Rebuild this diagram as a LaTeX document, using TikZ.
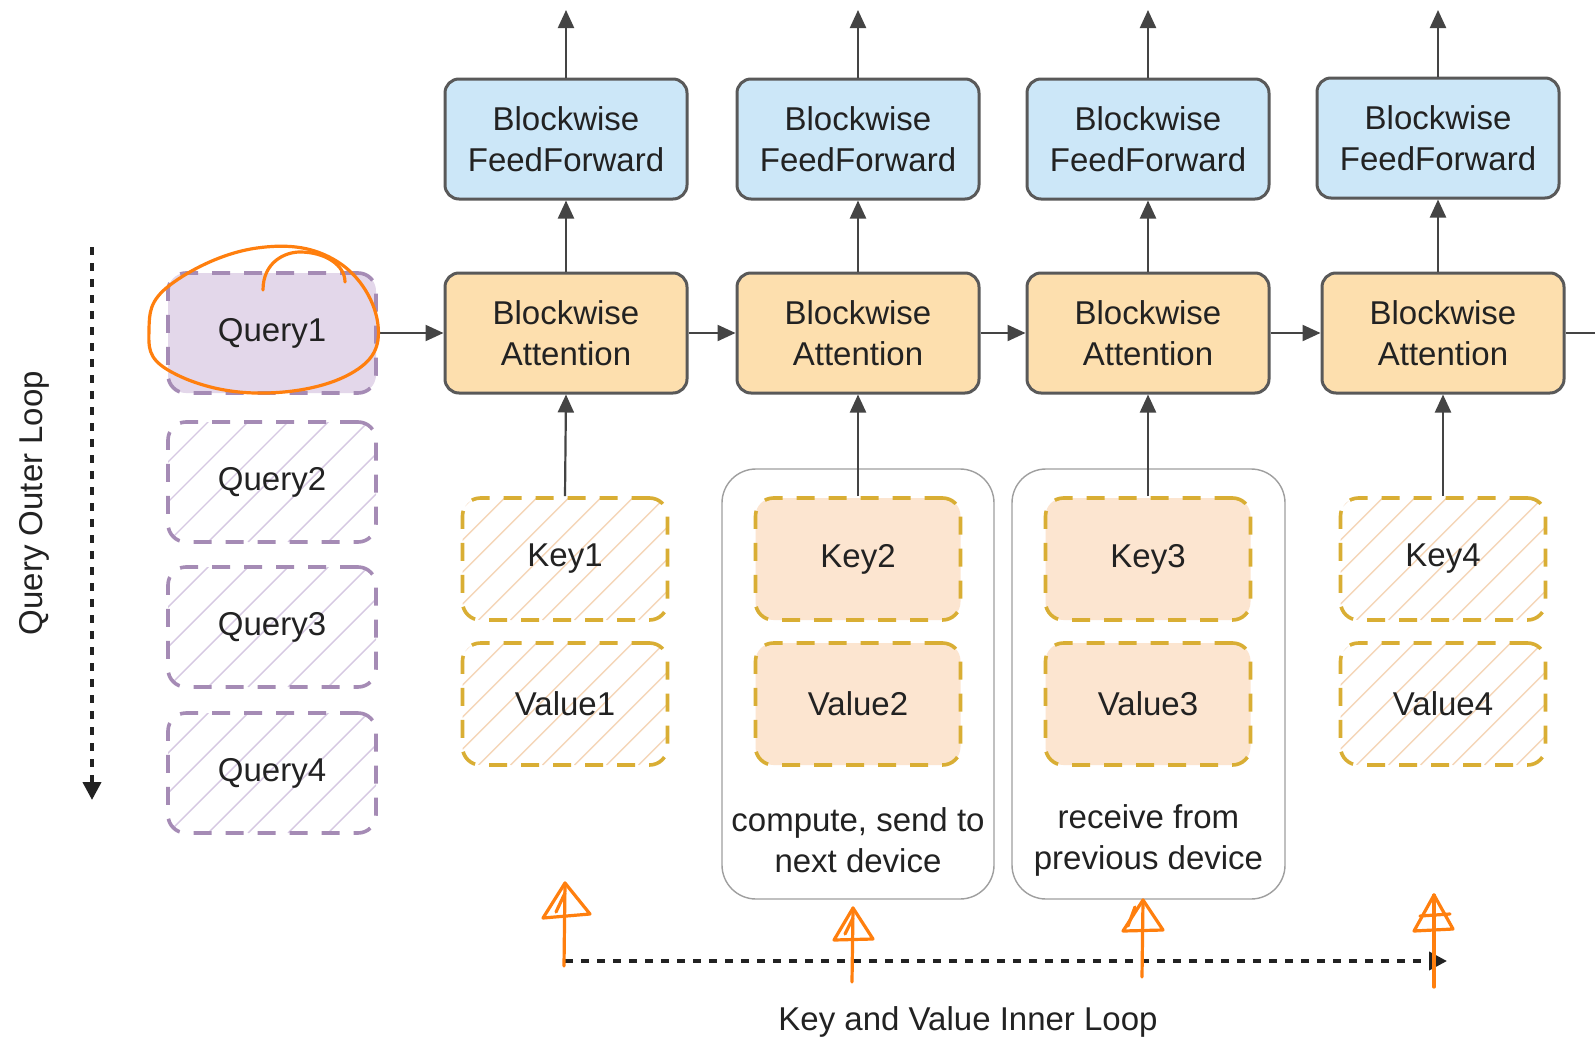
\documentclass[tikz,border=0pt]{standalone}
\usepackage{fontspec}
\setmainfont{Liberation Sans}
\usetikzlibrary{arrows.meta}
\definecolor{ffblue}{HTML}{CCE7F8}
\definecolor{attorange}{HTML}{FDDFAE}
\definecolor{boxline}{HTML}{595959}
\definecolor{qpurple}{HTML}{E3D7EA}
\definecolor{qline}{HTML}{A58BB5}
\definecolor{kyellow}{HTML}{D9AE34}
\definecolor{kfill}{HTML}{FCE5D0}
\definecolor{hatchq}{HTML}{D6C8E2}
\definecolor{hatchk}{HTML}{F5D6B8}
\definecolor{annot}{HTML}{FF7F0E}
\definecolor{txt}{HTML}{222222}
\definecolor{arr}{HTML}{444444}
\newcommand{\mainfs}{\fontsize{16.5pt}{20.5pt}\selectfont}
\tikzset{
  block/.style={draw=boxline, line width=1.5pt, rounded corners=7pt, minimum width=121pt, minimum height=60pt, align=center, font=\mainfs, text=txt, inner sep=0pt},
  ffbox/.style={block, fill=ffblue},
  attbox/.style={block, fill=attorange},
  hatching/.style 2 args={path picture={
      \foreach \i in {-120,-100,...,140}
        \draw[#1, line width=0.7pt, solid]
          ([xshift=\i pt]path picture bounding box.south west) -- ++(160pt,160pt);}},
  hatchingk/.style={path picture={
      \foreach \i in {-120,-104,...,140}
        \draw[hatchk, line width=0.7pt, solid]
          ([xshift=\i pt]path picture bounding box.south west) -- ++(160pt,160pt);}},
  qbox/.style={draw=qline, line width=1.8pt, dash pattern=on 9pt off 7pt, rounded corners=9pt, minimum width=104pt, minimum height=60pt, font=\mainfs, text=txt, inner sep=0pt},
  qhatch/.style={qbox, hatching={hatchq}{}},
  kbox/.style={draw=kyellow, line width=1.8pt, dash pattern=on 9pt off 7pt, rounded corners=9pt, minimum width=102.5pt, minimum height=61pt, font=\mainfs, text=txt, inner sep=0pt},
  khatch/.style={kbox, hatchingk},
  kfilled/.style={kbox, fill=kfill},
  container/.style={draw=gray!75, line width=0.7pt, rounded corners=17pt, minimum height=215pt, inner sep=0pt},
  plain/.style={font=\mainfs, text=txt, align=center, inner sep=0pt},
  link/.style={draw=arr, line width=1.1pt, -{Triangle[length=9pt,width=8pt]}},
  looparrow/.style={draw=txt, line width=2pt, dash pattern=on 4pt off 4pt, -{Triangle[length=9pt,width=9pt]}},
  note/.style={draw=annot, line width=1.6pt, line cap=round, line join=round}
}
\begin{document}
\begin{tikzpicture}[x=0.5pt,y=-0.5pt]
\clip (0,0) rectangle (1595,1044);
\fill[white] (0,0) rectangle (1595,1044);

% containers
\node[container, minimum width=136pt] (c2) at (858,684) {};
\node[container, minimum width=136.5pt] (c3) at (1148.5,684) {};
\node[plain] (t2) at (858,840) {compute, send to\\next device};
\node[plain] (t3) at (1148.5,840) {receive from\\previous device};

% feedforward
\node[ffbox] (f1) at (566,139) {Blockwise\\FeedForward};
\node[ffbox] (f2) at (858,139) {Blockwise\\FeedForward};
\node[ffbox] (f3) at (1148,139) {Blockwise\\FeedForward};
\node[ffbox] (f4) at (1438,138) {Blockwise\\FeedForward};

% attention
\node[attbox] (a1) at (566,333) {Blockwise\\Attention};
\node[attbox] (a2) at (858,333) {Blockwise\\Attention};
\node[attbox] (a3) at (1148,333) {Blockwise\\Attention};
\node[attbox] (a4) at (1443,333) {Blockwise\\Attention};

% queries
\node[qbox, fill=qpurple] (q1) at (272,333) {Query1};
\node[qhatch] (q2) at (272,482) {Query2};
\node[qhatch] (q3) at (272,627) {Query3};
\node[qhatch] (q4) at (272,773) {Query4};

% keys and values
\node[khatch] (k1) at (565,559) {Key1};
\node[khatch] (v1) at (565,704) {Value1};
\node[kfilled] (k2) at (858,559) {Key2};
\node[kfilled] (v2) at (858,704) {Value2};
\node[kfilled] (k3) at (1148,559) {Key3};
\node[kfilled] (v3) at (1148,704) {Value3};
\node[khatch] (k4) at (1443,559) {Key4};
\node[khatch] (v4) at (1443,704) {Value4};

% free ends
\coordinate (o1) at (566,10);
\coordinate (o2) at (858,10);
\coordinate (o3) at (1148,10);
\coordinate (o4) at (1438,10);
\coordinate (o5) at (1625,333);

% connectors
\draw[link] (f1.north) -- (o1);
\draw[link] (f2.north) -- (o2);
\draw[link] (f3.north) -- (o3);
\draw[link] (f4.north) -- (o4);
\draw[link] (a1.north) -- (f1.south);
\draw[link] (a2.north) -- (f2.south);
\draw[link] (a3.north) -- (f3.south);
\draw[link] (a4.north -| f4.south) -- (f4.south);
\draw[link] (k1.north) -- (a1.south);
\draw[link] (k2.north) -- (a2.south);
\draw[link] (k3.north) -- (a3.south);
\draw[link] (k4.north) -- (a4.south);
\draw[link] (q1.east) -- (a1.west);
\draw[link] (a1.east) -- (a2.west);
\draw[link] (a2.east) -- (a3.west);
\draw[link] (a3.east) -- (a4.west);
\draw[link] (a4.east) -- (o5);

% loops
\coordinate (qs) at (92,247);
\coordinate (qe) at (92,800);
\draw[looparrow] (qs) -- (qe);
\node[plain, rotate=90] (ql) at (34,503) {Query Outer Loop};
\coordinate (ks) at (565,961);
\coordinate (ke) at (1447,961);
\draw[looparrow] (ks) -- (ke);
\node[plain] (kl) at (968,1022) {Key and Value Inner Loop};

% orange annotations
\draw[note] plot[smooth cycle, tension=0.7] coordinates {(149,330) (170,285) (257,248) (338,262) (378,325) (350,374) (255,393) (168,370)};
\draw[note] (263,290) .. controls (263,262) and (285,252) .. (300,252) .. controls (325,252) and (345,265) .. (345,282);

\draw[note] (564,966) -- (565,883);
\draw[note] (565,883) -- (543,918) -- (590,914) -- cycle;
\draw[note] (565,893) -- (556,912);

\draw[note] (852,982) -- (853,908);
\draw[note] (853,908) -- (834,940) -- (873,939) -- cycle;
\draw[note] (853,918) -- (845,934);

\draw[note] (1142,977) -- (1143,900);
\draw[note] (1143,900) -- (1123,931) -- (1163,930) -- cycle;
\draw[note] (1135,907) -- (1128,926);

\draw[note] (1434,987) -- (1434,895);
\draw[note] (1434,895) -- (1414,931) -- (1453,929) -- cycle;
\draw[note] (1420,916) -- (1450,914);
\end{tikzpicture}
\end{document}
